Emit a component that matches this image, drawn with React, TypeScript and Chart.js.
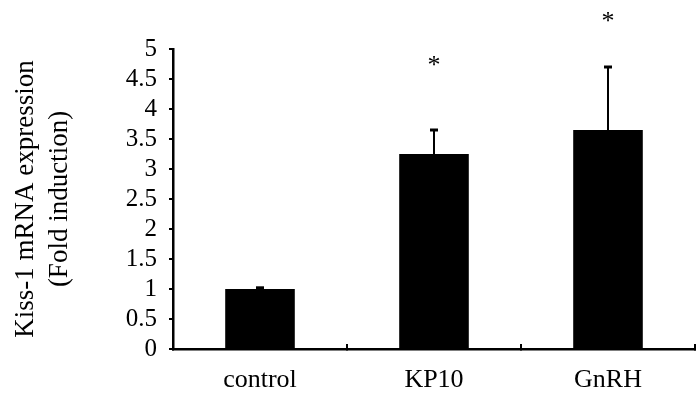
import React, { useEffect, useRef } from "react";
import { Chart, registerables } from "chart.js";

Chart.register(...registerables);

const categories = ["control", "KP10", "GnRH"];
const meanValues = [1.0, 3.25, 3.65];
const errorValues = [0.02, 0.4, 1.05];
const starLevels = [null, 4.77, 5.5];
const yTitleLines = ["Kiss-1 mRNA expression", "(Fold induction)"];
const yMin = 0;
const yMax = 5;
const yStep = 0.5;

const FONT = '"Liberation Serif", "Times New Roman", serif';

const errorBarPlugin = {
  id: "errorBars",
  afterDatasetsDraw(chart: any) {
    const ctx = chart.ctx;
    const meta = chart.getDatasetMeta(0);
    const y = chart.scales.y;
    ctx.save();
    ctx.strokeStyle = "#000";
    ctx.fillStyle = "#000";
    meta.data.forEach((bar: any, i: number) => {
      const x = bar.x;
      const yBase = y.getPixelForValue(meanValues[i]);
      const yTop = y.getPixelForValue(meanValues[i] + errorValues[i]);
      ctx.lineWidth = 2;
      ctx.beginPath();
      ctx.moveTo(x, yBase);
      ctx.lineTo(x, yTop);
      ctx.stroke();
      ctx.lineWidth = 3;
      ctx.beginPath();
      ctx.moveTo(x - 4, yTop);
      ctx.lineTo(x + 4, yTop);
      ctx.stroke();
      const s = starLevels[i];
      if (s !== null && s !== undefined) {
        ctx.font = `26px ${FONT}`;
        ctx.textAlign = "center";
        ctx.textBaseline = "alphabetic";
        ctx.fillText("*", x, y.getPixelForValue(s) + 10);
      }
    });
    ctx.restore();
  },
};

export default function App() {
  const canvasRef = useRef<HTMLCanvasElement | null>(null);

  useEffect(() => {
    const canvas = canvasRef.current;
    if (!canvas) return;
    const chart = new Chart(canvas, {
      type: "bar",
      data: {
        labels: categories,
        datasets: [
          {
            data: meanValues,
            backgroundColor: "#000",
            borderWidth: 0,
            barPercentage: 0.4,
            categoryPercentage: 1,
          },
        ],
      },
      options: {
        animation: false,
        responsive: false,
        devicePixelRatio: 1,
        layout: { padding: { left: 0, right: 1, top: 49, bottom: 0 } },
        plugins: {
          legend: { display: false },
          tooltip: { enabled: false },
        },
        scales: {
          x: {
            offset: true,
            grid: {
              offset: true,
              drawOnChartArea: false,
              drawTicks: true,
              tickLength: -5,
              color: "#000",
              lineWidth: 2,
            },
            border: { display: true, color: "#000", width: 2.5 },
            ticks: {
              color: "#000",
              font: { family: FONT, size: 26 },
              padding: 21,
              maxRotation: 0,
            },
            afterFit: (scale: any) => {
              scale.height = 45;
            },
          },
          y: {
            min: yMin,
            max: yMax,
            grid: {
              drawOnChartArea: false,
              drawTicks: true,
              tickLength: 4,
              color: "#000",
              lineWidth: 2,
            },
            border: { display: true, color: "#000", width: 2.5 },
            ticks: {
              stepSize: yStep,
              autoSkip: false,
              color: "#000",
              font: { family: FONT, size: 25 },
              padding: 12,
              callback: (v: any) => String(v),
            },
            title: {
              display: true,
              text: yTitleLines,
              color: "#000",
              font: { family: FONT, size: 27, lineHeight: 1.25 },
              padding: { top: 9, bottom: 0 },
            },
            afterFit: (scale: any) => {
              scale.width = 173;
            },
          },
        },
      },
      plugins: [errorBarPlugin],
    });
    return () => chart.destroy();
  }, []);

  return (
    <div style={{ position: "fixed", left: 0, top: 0, width: 696, height: 394, background: "#fff" }}>
      <canvas ref={canvasRef} width={696} height={394} style={{ width: 696, height: 394 }} />
    </div>
  );
}
